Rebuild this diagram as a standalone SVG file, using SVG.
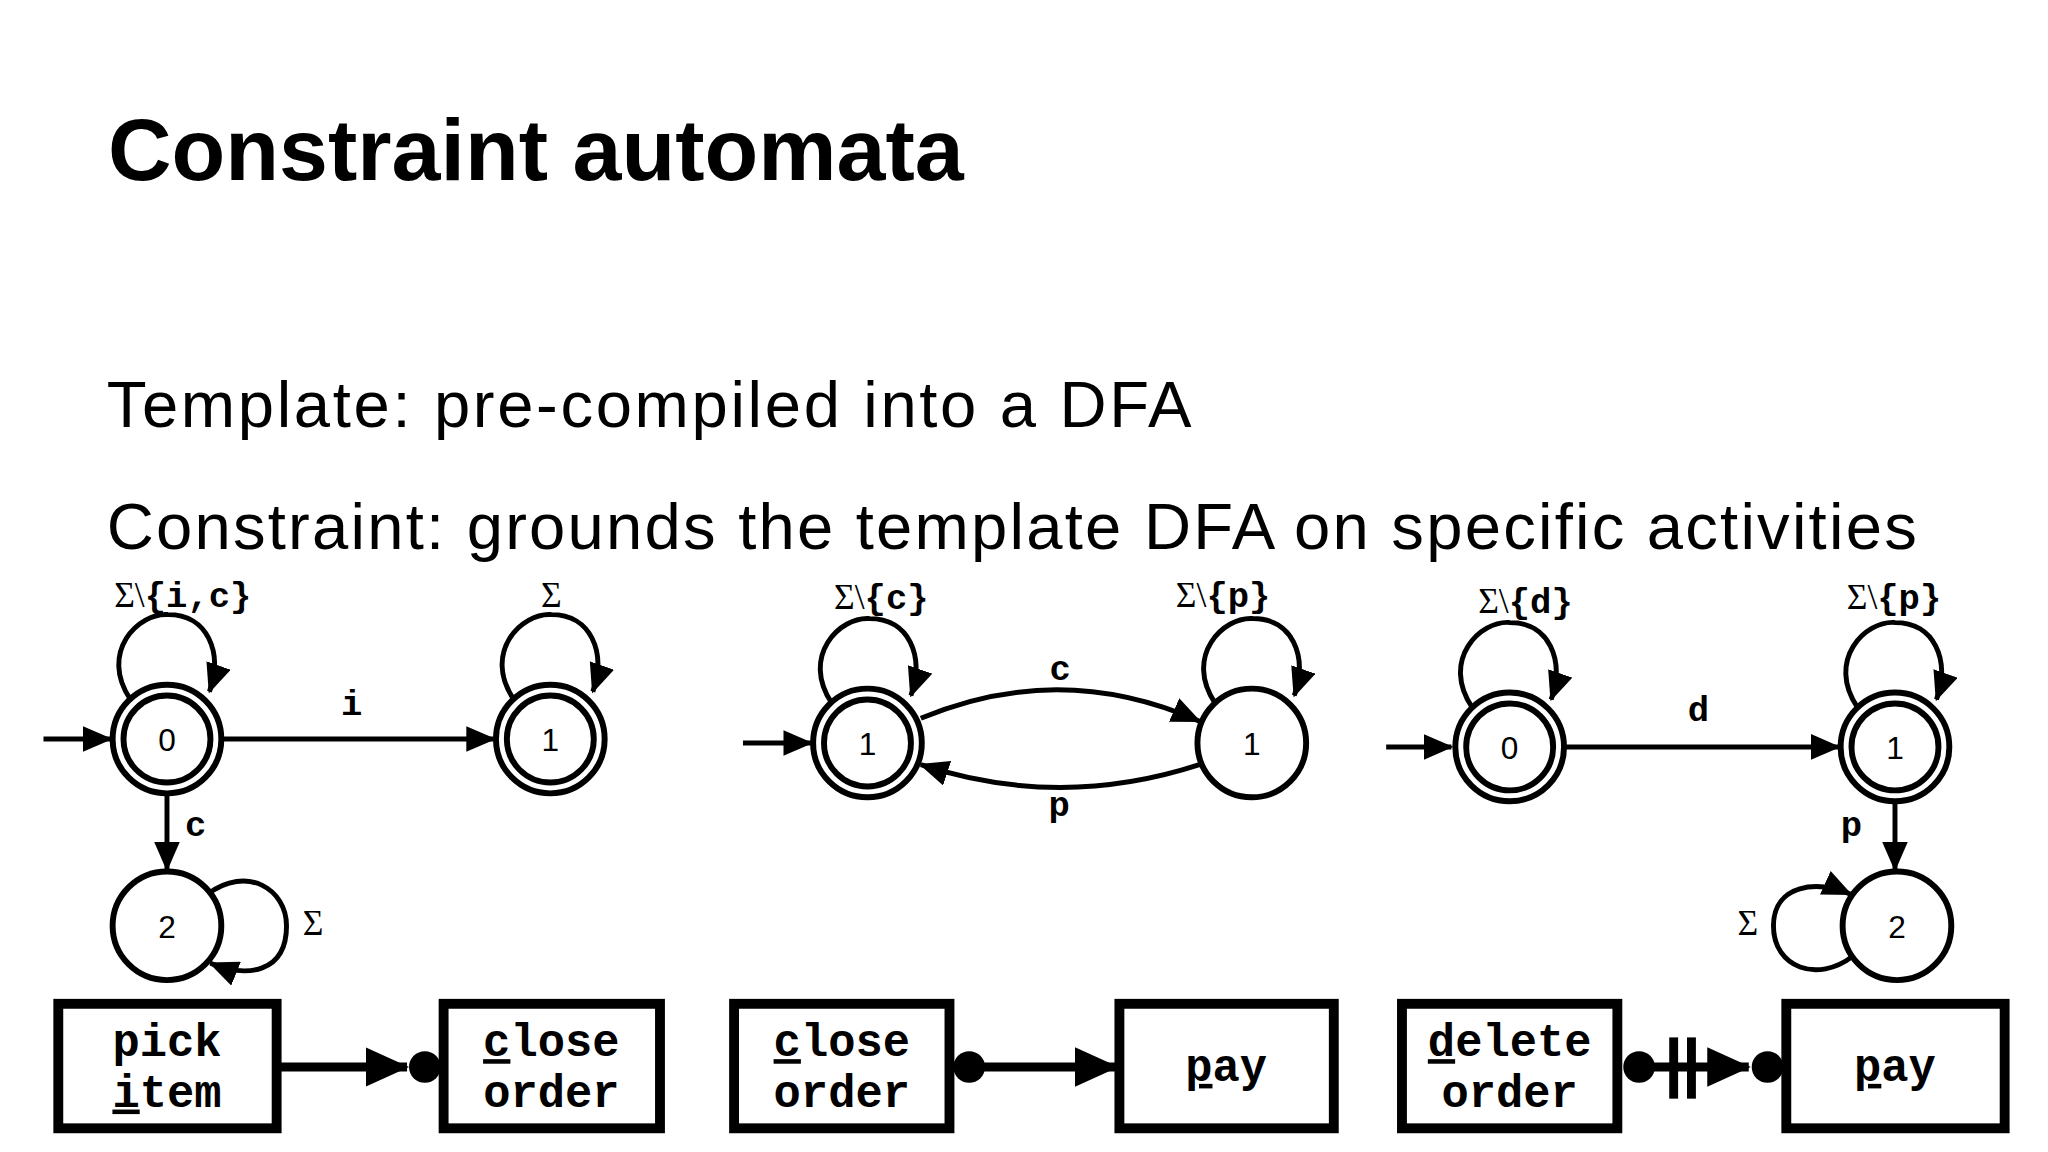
<svg xmlns="http://www.w3.org/2000/svg" width="2048" height="1152" viewBox="0 0 2048 1152">
<style>
.st{fill:#fff;stroke:#000;stroke-width:6}
.ln{fill:none;stroke:#000;stroke-width:5}
.num{font-family:"Liberation Sans",Arial,sans-serif;font-size:32px;text-anchor:middle}
.lb{font-family:"Liberation Mono","Courier New",monospace;font-weight:bold;font-size:36px;text-anchor:middle}
.sg{font-family:"Liberation Serif","Times New Roman",serif;font-weight:normal}
.bx{fill:#fff;stroke:#000;stroke-width:10}
.bt{font-family:"Liberation Mono","Courier New",monospace;font-weight:bold;font-size:46px;text-anchor:middle}
.u{text-decoration:underline}
</style>
<defs>
<marker id="a" markerUnits="userSpaceOnUse" markerWidth="30" markerHeight="26" refX="28" refY="13" orient="auto"><path d="M0,0 L30,13 L0,26 Z" fill="#000"/></marker>
<marker id="b" markerUnits="userSpaceOnUse" markerWidth="44" markerHeight="40" refX="42" refY="20" orient="auto"><path d="M0,0 L44,20 L0,40 Z" fill="#000"/></marker>
</defs>
<rect width="2048" height="1152" fill="#fff"/>
<text x="108" y="180" font-family="Liberation Sans,Arial,sans-serif" font-weight="bold" font-size="88">Constraint automata</text>
<g transform="scale(0.988)">
<text x="108" y="432" font-family="Liberation Sans,Arial,sans-serif" font-size="66" textLength="1098">Template: pre-compiled into a DFA</text>
<text x="108" y="556" font-family="Liberation Sans,Arial,sans-serif" font-size="66" textLength="1832">Constraint: grounds the template DFA on specific activities</text>

<g id="connectors">
<line class="ln" x1="44" y1="748" x2="112" y2="748" marker-end="url(#a)"/>
<path class="ln" d="M132,708 C100,660 140,620 170,622 C210,622 226,660 212,700" marker-end="url(#a)"/>
<line class="ln" x1="224" y1="748" x2="500" y2="748" marker-end="url(#a)"/>
<path class="ln" d="M520,708 C488,660 528,620 558,622 C598,622 614,660 600,700" marker-end="url(#a)"/>
<line class="ln" x1="169" y1="803" x2="169" y2="880" marker-end="url(#a)"/>
<path class="ln" d="M210,905 C250,875 290,900 290,937 C290,985 250,990 213,975" marker-end="url(#a)"/>
<line x1="280" y1="1080" x2="412" y2="1080" stroke="#000" stroke-width="9" marker-end="url(#b)"/>
<circle cx="430" cy="1080" r="16" fill="#000"/>
<line class="ln" x1="752" y1="752" x2="821" y2="752" marker-end="url(#a)"/>
<path class="ln" d="M842,712 C810,664 850,624 880,626 C920,626 936,664 922,704" marker-end="url(#a)"/>
<path class="ln" d="M1230,712 C1198,664 1238,624 1268,626 C1308,626 1324,664 1310,704" marker-end="url(#a)"/>
<path class="ln" d="M932,727 Q1073,668 1214,730" marker-end="url(#a)"/>
<path class="ln" d="M1214,774 Q1073,820 932,774" marker-end="url(#a)"/>
<circle cx="981" cy="1080" r="16" fill="#000"/>
<line x1="981" y1="1080" x2="1130" y2="1080" stroke="#000" stroke-width="9" marker-end="url(#b)"/>
<line class="ln" x1="1403" y1="756" x2="1469" y2="756" marker-end="url(#a)"/>
<path class="ln" d="M1490,716 C1458,668 1498,628 1528,630 C1568,630 1584,668 1570,708" marker-end="url(#a)"/>
<line class="ln" x1="1583" y1="756" x2="1861" y2="756" marker-end="url(#a)"/>
<path class="ln" d="M1880,716 C1848,668 1888,628 1918,630 C1958,630 1974,668 1960,708" marker-end="url(#a)"/>
<line class="ln" x1="1918" y1="811" x2="1918" y2="880" marker-end="url(#a)"/>
<path class="ln" d="M1875,968 C1840,995 1795,980 1795,937 C1795,895 1840,890 1873,905" marker-end="url(#a)"/>
<circle cx="1659" cy="1080" r="16" fill="#000"/>
<line x1="1659" y1="1080" x2="1770" y2="1080" stroke="#000" stroke-width="9" marker-end="url(#b)"/>
<line x1="1694" y1="1050" x2="1694" y2="1112" stroke="#000" stroke-width="9"/>
<line x1="1712" y1="1050" x2="1712" y2="1112" stroke="#000" stroke-width="9"/>
<circle cx="1789" cy="1080" r="16" fill="#000"/>
</g>

<g id="labels">
<text class="lb" x="185" y="614"><tspan class="sg">Σ\</tspan>{i,c}</text>
<text class="lb sg" x="558" y="614">Σ</text>
<text class="lb" x="356" y="724">i</text>
<text class="lb" x="198" y="846">c</text>
<text class="lb sg" x="317" y="946">Σ</text>
<text class="lb" x="892" y="616"><tspan class="sg">Σ\</tspan>{c}</text>
<text class="lb" x="1238" y="614"><tspan class="sg">Σ\</tspan>{p}</text>
<text class="lb" x="1073" y="688">c</text>
<text class="lb" x="1072" y="826">p</text>
<text class="lb" x="1544" y="620"><tspan class="sg">Σ\</tspan>{d}</text>
<text class="lb" x="1917" y="616"><tspan class="sg">Σ\</tspan>{p}</text>
<text class="lb" x="1719" y="730">d</text>
<text class="lb" x="1874" y="846">p</text>
<text class="lb sg" x="1769" y="946">Σ</text>
</g>

<g id="s1-0"><circle class="st" cx="169" cy="748" r="55"/><circle class="st" cx="169" cy="748" r="44"/><text class="num" x="169" y="760">0</text></g>
<g id="s1-1"><circle class="st" cx="557" cy="748" r="55"/><circle class="st" cx="557" cy="748" r="44"/><text class="num" x="557" y="760">1</text></g>
<g id="s1-2"><circle class="st" cx="169" cy="937" r="55"/><text class="num" x="169" y="949">2</text></g>
<g id="s2-0"><circle class="st" cx="878" cy="752" r="55"/><circle class="st" cx="878" cy="752" r="44"/><text class="num" x="878" y="764">1</text></g>
<g id="s2-1"><circle class="st" cx="1267" cy="752" r="55"/><text class="num" x="1267" y="764">1</text></g>
<g id="s3-0"><circle class="st" cx="1528" cy="756" r="55"/><circle class="st" cx="1528" cy="756" r="44"/><text class="num" x="1528" y="768">0</text></g>
<g id="s3-1"><circle class="st" cx="1918" cy="756" r="55"/><circle class="st" cx="1918" cy="756" r="44"/><text class="num" x="1918" y="768">1</text></g>
<g id="s3-2"><circle class="st" cx="1920" cy="937" r="55"/><text class="num" x="1920" y="949">2</text></g>

<g id="b1"><rect class="bx" x="59" y="1016" width="221" height="126"/><text class="bt" x="169" y="1069">pick</text><text class="bt" x="169" y="1120"><tspan class="u">i</tspan>tem</text></g>
<g id="b2"><rect class="bx" x="449" y="1016" width="219" height="126"/><text class="bt" x="558" y="1069"><tspan class="u">c</tspan>lose</text><text class="bt" x="558" y="1120">order</text></g>
<g id="b3"><rect class="bx" x="743" y="1016" width="218" height="126"/><text class="bt" x="852" y="1069"><tspan class="u">c</tspan>lose</text><text class="bt" x="852" y="1120">order</text></g>
<g id="b4"><rect class="bx" x="1133" y="1016" width="217" height="126"/><text class="bt" x="1241" y="1094"><tspan class="u">p</tspan>ay</text></g>
<g id="b5"><rect class="bx" x="1419" y="1016" width="218" height="126"/><text class="bt" x="1528" y="1069"><tspan class="u">d</tspan>elete</text><text class="bt" x="1528" y="1120">order</text></g>
<g id="b6"><rect class="bx" x="1808" y="1016" width="221" height="126"/><text class="bt" x="1918" y="1094"><tspan class="u">p</tspan>ay</text></g>
</g>
</svg>
